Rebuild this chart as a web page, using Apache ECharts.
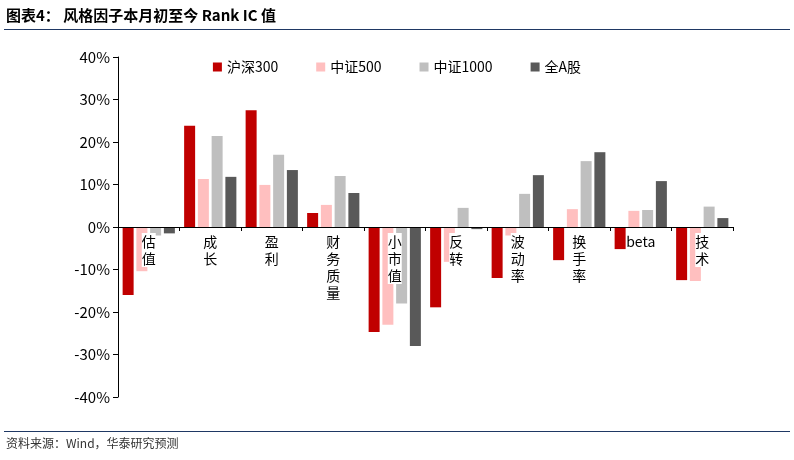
<!DOCTYPE html>
<html>
<head>
<meta charset="UTF-8">
<script src="https://cdn.jsdelivr.net/npm/echarts@6/dist/echarts.min.js"></script>
<style>
body{margin:0;background:#fff;font-family:"Noto Sans CJK SC",sans-serif;}
#title{position:absolute;left:6px;top:4px;font-size:15px;font-weight:bold;color:#000;}
#topline{position:absolute;left:4px;right:4px;top:29px;border-top:1px solid #1f3864;}
#botline{position:absolute;left:4px;right:4px;top:431px;border-top:1px solid #1f3864;}
#src{position:absolute;left:6px;top:434px;font-size:12px;color:#333;}
#main{position:absolute;left:0;top:0;width:794px;height:460px;}
</style>
</head>
<body>
<div id="main"></div>
<div id="title">图表4： 风格因子本月初至今 Rank IC 值</div>
<div id="topline"></div>
<div id="botline"></div>
<div id="src">资料来源：Wind，华泰研究预测</div>
<script>
var categories = ['估值', '成长', '盈利', '财务质量', '小市值', '反转', '波动率', '换手率', 'beta', '技术'];
var hs300 = [-16.0, 23.8, 27.5, 3.3, -24.7, -18.9, -12.0, -7.8, -5.2, -12.5];
var zz500 = [-10.4, 11.3, 9.9, 5.2, -23.0, -8.2, -2.0, 4.2, 3.8, -12.7];
var zz1000 = [-2.0, 21.4, 17.0, 12.0, -18.0, 4.5, 7.8, 15.5, 4.0, 4.8];
var allA = [-1.5, 11.8, 13.4, 8.0, -28.0, -0.5, 12.2, 17.6, 10.8, 2.1];
var names = ['沪深300', '中证500', '中证1000', '全A股'];
var colors = ['#C00000', '#FFBFBF', '#BFBFBF', '#595959'];

var chart = echarts.init(document.getElementById('main'));
var series = [hs300, zz500, zz1000, allA].map(function (d, i) {
    return {name: names[i], type: 'bar', data: d, barWidth: 11, barGap: '25%', itemStyle: {color: colors[i]}};
});
chart.setOption({
    animation: false,
    textStyle: {fontFamily: 'Noto Sans CJK SC'},
    legend: {
        top: 55, left: 'center', itemWidth: 9, itemHeight: 9, itemGap: 38,
        textStyle: {fontSize: 14, color: '#000'},
        data: names.map(function (n) { return {name: n, icon: 'rect'}; })
    },
    grid: {left: 118, right: 61, top: 57, bottom: 63, outerBoundsMode: 'none', containLabel: false},
    xAxis: {
        type: 'category', data: categories,
        offset: -170,
        axisLine: {onZero: false, lineStyle: {color: '#000'}},
        axisTick: {show: true, interval: 0, length: 4},
        axisLabel: {
            interval: 0, fontSize: 14, color: '#000', lineHeight: 17, margin: 6,
            backgroundColor: '#fff',
            formatter: function (v) { return v === 'beta' ? v : v.split('').join('\n'); }
        },
        z: 10
    },
    yAxis: {
        type: 'value', min: -40, max: 40, interval: 10,
        axisLine: {show: true, lineStyle: {color: '#000'}},
        axisTick: {show: true},
        splitLine: {show: false},
        axisLabel: {fontSize: 15, color: '#000', formatter: '{value}%'}
    },
    series: series
});
</script>
</body>
</html>
